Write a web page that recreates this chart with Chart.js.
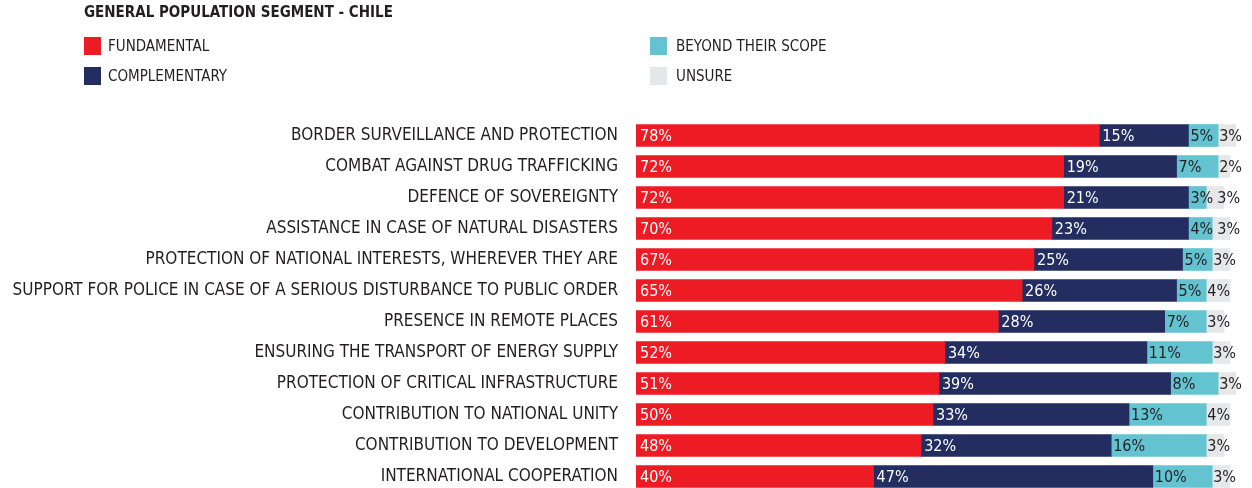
<!DOCTYPE html>
<html>
<head>
<meta charset="utf-8">
<script src="https://cdn.jsdelivr.net/npm/chart.js@4"></script>
<style>
html,body{margin:0;padding:0;background:#fff;overflow:hidden;}
canvas{display:block;}
</style>
</head>
<body>
<canvas id="c" width="1252" height="496" style="width:1252px;height:496px;"></canvas>
<script>
const chartTitle = "GENERAL POPULATION SEGMENT - CHILE";
const categories = [
  "BORDER SURVEILLANCE AND PROTECTION",
  "COMBAT AGAINST DRUG TRAFFICKING",
  "DEFENCE OF SOVEREIGNTY",
  "ASSISTANCE IN CASE OF NATURAL DISASTERS",
  "PROTECTION OF NATIONAL INTERESTS, WHEREVER THEY ARE",
  "SUPPORT FOR POLICE IN CASE OF A SERIOUS DISTURBANCE TO PUBLIC ORDER",
  "PRESENCE IN REMOTE PLACES",
  "ENSURING THE TRANSPORT OF ENERGY SUPPLY",
  "PROTECTION OF CRITICAL INFRASTRUCTURE",
  "CONTRIBUTION TO NATIONAL UNITY",
  "CONTRIBUTION TO DEVELOPMENT",
  "INTERNATIONAL COOPERATION"
];
const seriesNames = ["FUNDAMENTAL", "COMPLEMENTARY", "BEYOND THEIR SCOPE", "UNSURE"];
const fundamental   = [78, 72, 72, 70, 67, 65, 61, 52, 51, 50, 48, 40];
const complementary = [15, 19, 21, 23, 25, 26, 28, 34, 39, 33, 32, 47];
const beyondScope   = [5, 7, 3, 4, 5, 5, 7, 11, 8, 13, 16, 10];
const unsure        = [3, 2, 3, 3, 3, 4, 3, 3, 3, 4, 3, 3];

const seriesColors = ["#ED1C24", "#232D60", "#63C3D1", "#E6E7E8"];
const labelColors  = ["#FFFFFF", "#FFFFFF", "#231F20", "#231F20"];
const labelOffsets = [4, 3, 2, 1];
const FONT = '"Liberation Sans Narrow", "Arial Narrow", "DejaVu Sans Condensed", sans-serif';

const valueLabels = {
  id: 'valueLabels',
  afterDatasetsDraw(chart) {
    const ctx = chart.ctx;
    ctx.save();
    ctx.font = '16px ' + FONT;
    ctx.textAlign = 'left';
    ctx.textBaseline = 'middle';
    const rowEnd = {};
    chart.data.datasets.forEach((ds, di) => {
      const meta = chart.getDatasetMeta(di);
      meta.data.forEach((bar, i) => {
        const txt = ds.data[i] + '%';
        ctx.fillStyle = labelColors[di];
        const start = Math.min(bar.base, bar.x);
        let x = start + labelOffsets[di];
        if (rowEnd[i] !== undefined && x < rowEnd[i] + 4) x = rowEnd[i] + 4;
        ctx.fillText(txt, x, bar.y + 1);
        rowEnd[i] = x + ctx.measureText(txt).width;
      });
    });
    ctx.restore();
  }
};

const headerLegend = {
  id: 'headerLegend',
  afterDraw(chart) {
    const ctx = chart.ctx;
    ctx.save();
    ctx.fillStyle = '#231F20';
    ctx.textBaseline = 'middle';
    ctx.textAlign = 'left';
    ctx.font = 'bold 15px ' + FONT;
    ctx.fillText(chartTitle, 84, 13);
    const pos = [[84, 37, 108], [84, 67, 108], [650, 37, 676], [650, 67, 676]];
    ctx.font = '15px ' + FONT;
    chart.data.datasets.forEach((ds, i) => {
      const [x, y, tx] = pos[i];
      ctx.fillStyle = ds.backgroundColor;
      ctx.fillRect(x, y, 17, 18);
      ctx.fillStyle = '#231F20';
      ctx.fillText(ds.label, tx, y + 10);
    });
    ctx.restore();
  }
};

const seriesData = [fundamental, complementary, beyondScope, unsure];

new Chart(document.getElementById('c'), {
  type: 'bar',
  data: {
    labels: categories,
    datasets: seriesNames.map((name, i) => ({
      label: name,
      data: seriesData[i],
      backgroundColor: seriesColors[i],
      borderWidth: 0,
      barThickness: 22
    }))
  },
  options: {
    indexAxis: 'y',
    responsive: false,
    maintainAspectRatio: false,
    animation: false,
    devicePixelRatio: 1,
    layout: { padding: { top: 120, bottom: 4, left: 0, right: 0 } },
    plugins: {
      legend: { display: false },
      tooltip: { enabled: false },
      title: { display: false }
    },
    scales: {
      x: {
        stacked: true,
        display: false,
        min: 0,
        max: 103.7
      },
      y: {
        stacked: true,
        grid: { display: false, drawTicks: false },
        border: { display: false },
        ticks: {
          padding: 18,
          color: '#231F20',
          font: { family: FONT, size: 17 }
        },
        afterFit(scale) {
          scale.width = 636;
          scale.paddingTop = 0;
          scale.paddingBottom = 0;
        }
      }
    }
  },
  plugins: [valueLabels, headerLegend]
});
</script>
</body>
</html>
